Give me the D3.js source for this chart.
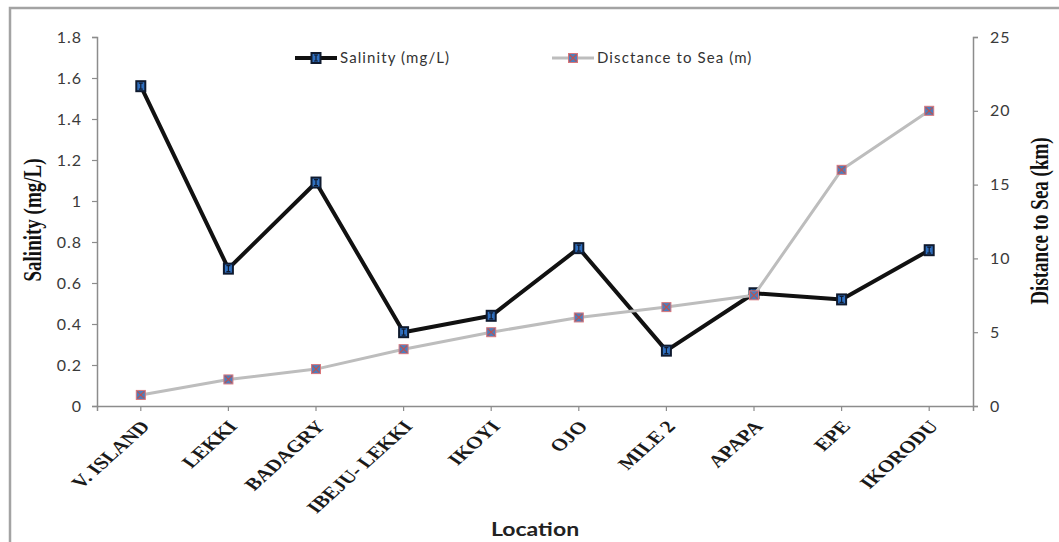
<!DOCTYPE html>
<html>
<head>
<meta charset="utf-8">
<script src="https://cdn.jsdelivr.net/npm/d3@7"></script>
<style>
  body { margin: 0; background: #fff; }
  svg { display: block; }
</style>
</head>
<body>
<svg id="chart" width="1059" height="542"></svg>
<script>
const categories = ["V. ISLAND", "LEKKI", "BADAGRY", "IBEJU- LEKKI", "IKOYI", "OJO", "MILE 2", "APAPA", "EPE", "IKORODU"];
const salinity = [1.56, 0.67, 1.09, 0.36, 0.44, 0.77, 0.27, 0.55, 0.52, 0.76];
const distance = [0.75, 1.8, 2.5, 3.85, 5.0, 6.0, 6.7, 7.5, 16.0, 20.0];
const leftTicks = [0, 0.2, 0.4, 0.6, 0.8, 1, 1.2, 1.4, 1.6, 1.8];
const rightTicks = [0, 5, 10, 15, 20, 25];
const seriesNames = ["Salinity (mg/L)", "Disctance to Sea (m)"];

const svg = d3.select("#chart");
const m = { left: 97, right: 973, top: 37, bottom: 406 };
const stretch = 1.28;

// frame
svg.append("path").attr("d", `M10,542 L10,8 L1059,8`).attr("fill", "none")
  .attr("stroke", "#a3a3a3").attr("stroke-width", 2.5);

const x = d3.scaleBand().domain(categories).range([m.left, m.right]);
const yL = d3.scaleLinear().domain([0, 1.8]).range([m.bottom, m.top]);
const yR = d3.scaleLinear().domain([0, 25]).range([m.bottom, m.top]);
const cx = d => x(d) + x.bandwidth() / 2;

const axisColor = "#8c8c8c";
const tickFont = "Lato, 'Open Sans', sans-serif";

// left axis
const gL = svg.append("g").attr("transform", `translate(${m.left},0)`)
  .call(d3.axisLeft(yL).tickValues(leftTicks).tickSize(5).tickPadding(10)
    .tickFormat(d => d3.format("")(+d.toFixed(1))));
// right axis
const gR = svg.append("g").attr("transform", `translate(${m.right},0)`)
  .call(d3.axisRight(yR).tickValues(rightTicks).tickSize(5).tickPadding(12));
// bottom axis
const gB = svg.append("g").attr("transform", `translate(0,${m.bottom})`)
  .call(d3.axisBottom(x).tickSize(5).tickFormat(""));
gB.selectAll(".tick").attr("transform", d => `translate(${cx(d)},0)`);

[gL, gR, gB].forEach(g => {
  g.select(".domain").attr("stroke", axisColor).attr("stroke-width", 1.5);
  g.selectAll(".tick line").attr("stroke", axisColor).attr("stroke-width", 1.2);
  g.selectAll(".tick text").attr("fill", "#3a3a3a").style("font-family", tickFont)
    .style("font-size", "16px").style("letter-spacing", "1px");
});

// category labels
svg.append("g").selectAll("text").data(categories).join("text")
  .attr("transform", d => `translate(${cx(d) + 10},${m.bottom + 21}) scale(${stretch},1) rotate(-49)`)
  .attr("text-anchor", "end")
  .style("font-family", "'Liberation Serif', 'Times New Roman', serif")
  .style("font-weight", "bold").style("font-size", "17px")
  .attr("fill", "#1a1a1a")
  .text(d => d);

// axis titles
svg.append("text").attr("transform", `translate(41,220) scale(${stretch},1) rotate(-90)`)
  .attr("text-anchor", "middle")
  .style("font-family", "'Liberation Serif', 'Times New Roman', serif")
  .style("font-weight", "bold").style("font-size", "19px").attr("fill", "#111")
  .text("Salinity (mg/L)");
svg.append("text").attr("transform", `translate(1048,221) scale(${stretch},1) rotate(-90)`)
  .attr("text-anchor", "middle")
  .style("font-family", "'Liberation Serif', 'Times New Roman', serif")
  .style("font-weight", "bold").style("font-size", "19px").attr("fill", "#111")
  .text("Distance to Sea (km)");
svg.append("text").attr("transform", `translate(${(m.left + m.right) / 2},536) scale(${stretch},1)`)
  .attr("text-anchor", "middle")
  .style("font-family", tickFont).style("font-weight", "bold")
  .style("font-size", "18px").attr("fill", "#222")
  .text("Location");

// lines
const lineS = d3.line().x((d, i) => cx(categories[i])).y(d => yL(d));
const lineD = d3.line().x((d, i) => cx(categories[i])).y(d => yR(d));

function salMarker(g, px, py) {
  g.append("rect").attr("x", px - 4.5).attr("y", py - 5).attr("width", 9).attr("height", 10)
    .attr("fill", "#2f6fbf").attr("stroke", "#0f1a2e").attr("stroke-width", 2);
  g.append("path").attr("d", `M${px - 2},${py - 3} H${px + 2} M${px},${py - 3} V${py + 3} M${px - 2},${py + 3} H${px + 2}`)
    .attr("stroke", "#0f1a2e").attr("stroke-width", 1.2);
}
function distMarker(g, px, py) {
  g.append("rect").attr("x", px - 4.5).attr("y", py - 4.5).attr("width", 9).attr("height", 9)
    .attr("fill", "#4a7ebf").attr("stroke", "#d9767a").attr("stroke-width", 1);
  g.append("path").attr("d", `M${px - 3.5},${py - 3.5} L${px + 3.5},${py + 3.5} M${px + 3.5},${py - 3.5} L${px - 3.5},${py + 3.5}`)
    .attr("stroke", "#c0504d").attr("stroke-width", 1.2);
}

svg.append("path").datum(salinity).attr("d", lineS).attr("fill", "none")
  .attr("stroke", "#111").attr("stroke-width", 4).attr("stroke-linejoin", "round");
const gS = svg.append("g");
salinity.forEach((v, i) => salMarker(gS, cx(categories[i]), yL(v)));

svg.append("path").datum(distance).attr("d", lineD).attr("fill", "none")
  .attr("stroke", "#bdbdbd").attr("stroke-width", 3).attr("stroke-linejoin", "round");
const gD = svg.append("g");
distance.forEach((v, i) => distMarker(gD, cx(categories[i]), yR(v)));

// legend
const leg = svg.append("g");
const legItems = [
  { name: seriesNames[0], x0: 295, color: "#111", w: 4, mk: salMarker },
  { name: seriesNames[1], x0: 552, color: "#bdbdbd", w: 3, mk: distMarker }
];
legItems.forEach(it => {
  leg.append("line").attr("x1", it.x0).attr("x2", it.x0 + 42).attr("y1", 58).attr("y2", 58)
    .attr("stroke", it.color).attr("stroke-width", it.w);
  it.mk(leg, it.x0 + 21, 58);
  leg.append("text").attr("x", it.x0 + 45).attr("y", 58).attr("dy", "0.35em")
    .style("font-family", tickFont).style("font-size", "15px").style("letter-spacing", "1.1px")
    .attr("fill", "#333").text(it.name);
});
</script>
</body>
</html>
